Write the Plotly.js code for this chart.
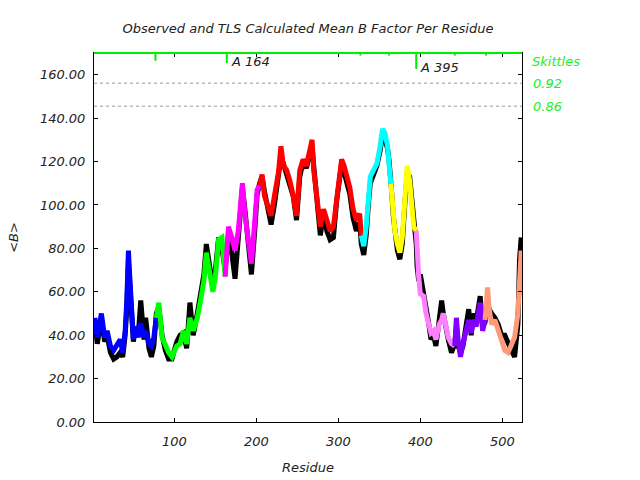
<!DOCTYPE html>
<html>
<head>
<meta charset="utf-8">
<script src="https://cdn.plot.ly/plotly-3.0.1.min.js"></script>
<style>html,body{margin:0;padding:0;background:#fff;}#chart{width:640px;height:480px;}</style>
</head>
<body>
<div id="chart"></div>
<script>
// Residue numbers at which values were read
const residues = [3,6,11,15,18,22,26,30,34,37,40,42,44,45,48,50,52,56,59,63,65,69,72,75,78,
81,85,89,93,97,103,107,111,115,119,123,128,132,136,139,143,147,150,154,158,162,
166,170,174,178,181,183,186,190,194,198,201,204,
207,210,214,218,222,227,230,233,237,241,245,249,253,257,261,265,268,270,274,278,282,286,290,294,298,301,304,307,310,314,318,322,326,328,
331,334,337,339,343,347,351,354,357,360,362,364,
365,367,369,372,375,378,381,384,387,389,392,395,
396,398,400,404,407,410,413,416,419,423,426,428,431,434,438,442,
444,446,449,452,456,459,462,465,468,471,473,476,479,
482,484,487,491,495,499,503,507,511,515,519,521,523];

// TLS calculated mean B per residue
const tlsB = [48,39,50,39,42,35,33,35.5,38,32,42,56,79,71,50,38,44,39,45.5,39,42,36,35,39,48,
55,39,35,32,30,35,36,42,36,48,42,48,56,65,78,70,60,67,84,85,67,
90,85,79,88,107,110,96,85,73,92,107,109,
114,104,99,95,104,115,127,118,116,111,104,95,116,121,118,125,130,116,101,90,98,92,88,90,104,114,121,118,113,108,98,93,96,86,
81,90,104,113,116,119,127,135,133,127,118,110,
104,96,88,82,78,85,105,118,111,101,90,88,
76,67,59,58,50,44,41,42,38,45,47,50,45,39,36,35,
48,38,30,36,44,47,41,47,44,52,55,42,47,
62,52,45,47,42,38,33,32,35,39,50,68,79];

// Observed mean B per residue
const obsB = [47,36,48,37,40,32,29,30,32,30,40,52,74,68,47,37,42,40,56,38,48,34,30,35,50,
53,40,33,29,29,37,40,41,34,55,40,50,58,68,82,72,62,70,85,80,70,
86,78,66,86,104,108,98,82,68,88,105,110,
113,106,98,91,100,113,122,119,114,110,104,93,113,120,117,123,127,118,103,86,96,88,84,85,102,112,119,115,111,105,94,88,92,82,
77,86,102,110,114,118,125,133,130,126,120,113,
106,95,86,79,75,82,100,115,113,106,92,82,
72,65,68,60,52,46,38,40,35,48,56,50,43,38,32,36,
44,35,32,35,45,52,40,50,46,55,58,44,46,
55,52,50,48,45,40,40,36,33,30,45,75,85];

// TLS segments: first residue of each segment and its colour
const segmentStarts = [3, 78, 162, 204, 328, 364, 395, 442, 479];
const segmentColors = ['#0000ff','#00ff00','#ff00ff','#ff0000','#00ffff','#ffff00','#ff80ff','#8000ff','#ff9977'];

// Skittles markers along the top
const skittleResidues = [77, 164, 327, 362, 395, 442, 480];
const skittleDepth = [3.6, 4.6, 1.2, 1.2, 7.3, 1.2, 1.2];
const skittleLabels = ['', 'A 164', '', '', 'A 395', '', ''];
const skittleLevels = [156.1, 145.5];
const skittleLevelLabels = ['0.92', '0.86'];

const yTop = 170;
const font = {family: 'DejaVu Sans', size: 13, style: 'italic', color: '#222'};
const lime = '#00ee00';

const traces = [];
traces.push({x: residues, y: obsB, mode: 'lines', line: {color: '#000', width: 5}, hoverinfo: 'skip'});

for (let s = 0; s < segmentStarts.length; s++) {
  const a = segmentStarts[s];
  const b = s + 1 < segmentStarts.length ? segmentStarts[s + 1] : Infinity;
  const xs = [], ys = [];
  residues.forEach((r, i) => { if (r >= a && r <= b) { xs.push(r); ys.push(tlsB[i]); } });
  traces.push({x: xs, y: ys, mode: 'lines', line: {color: segmentColors[s], width: 5}, hoverinfo: 'skip'});
}

const kx = [], ky = [];
skittleResidues.forEach((r, i) => { kx.push(r, r, null); ky.push(yTop, yTop - skittleDepth[i], null); });
traces.push({x: kx, y: ky, mode: 'lines', line: {color: lime, width: 2}, hoverinfo: 'skip', cliponaxis: false});

const shapes = skittleLevels.map(v => ({type: 'line', xref: 'paper', x0: 0, x1: 1, yref: 'y', y0: v, y1: v,
  line: {color: '#999', width: 1, dash: 'dot'}}));
shapes.push({type: 'line', xref: 'paper', x0: 0, x1: 1, yref: 'paper', y0: 1, y1: 1, line: {color: lime, width: 2}, layer: 'above'});

const annotations = [];
skittleResidues.forEach((r, i) => {
  if (skittleLabels[i]) annotations.push({x: r, y: yTop - skittleDepth[i], xref: 'x', yref: 'y', text: skittleLabels[i],
    showarrow: false, xanchor: 'left', yanchor: 'middle', xshift: 2, yshift: 1, font: font});
});
annotations.push({x: 1, y: 1, xref: 'paper', yref: 'paper', text: 'Skittles', showarrow: false, xanchor: 'left', yanchor: 'middle',
  xshift: 8, yshift: -8, font: {...font, color: '#22ee22'}});
skittleLevels.forEach((v, i) => annotations.push({x: 1, y: v, xref: 'paper', yref: 'y', text: skittleLevelLabels[i], showarrow: false,
  xanchor: 'left', yanchor: 'middle', xshift: 9, font: {...font, color: '#22ee22'}}));

const layout = {
  width: 640, height: 480,
  margin: {l: 94, r: 118, t: 53, b: 58},
  paper_bgcolor: '#fff', plot_bgcolor: '#fff',
  showlegend: false,
  font: font,
  title: {text: 'Observed and TLS Calculated Mean B Factor Per Residue', font: font, x: 0.5, xref: 'paper', y: 0.94, yanchor: 'middle'},
  xaxis: {range: [2, 524], tick0: 0, dtick: 100, ticks: 'inside', ticklen: 4, tickcolor: '#000', showline: true, linecolor: '#000', linewidth: 1,
    mirror: 'ticks', showgrid: false, zeroline: false, tickfont: font, ticklabelstandoff: 7, title: {text: 'Residue', font: font, standoff: 15}},
  yaxis: {range: [0, 170], tick0: 0, dtick: 20, tickformat: '.2f', ticks: 'inside', ticklen: 4, tickcolor: '#000', showline: true, linecolor: '#000', linewidth: 1,
    mirror: 'ticks', showgrid: false, zeroline: false, tickfont: font, ticklabelstandoff: 5, title: {text: '&lt;B&gt;', font: font, standoff: 18}},
  shapes: shapes,
  annotations: annotations
};

Plotly.newPlot('chart', traces, layout, {staticPlot: true, displayModeBar: false});
</script>
</body>
</html>
